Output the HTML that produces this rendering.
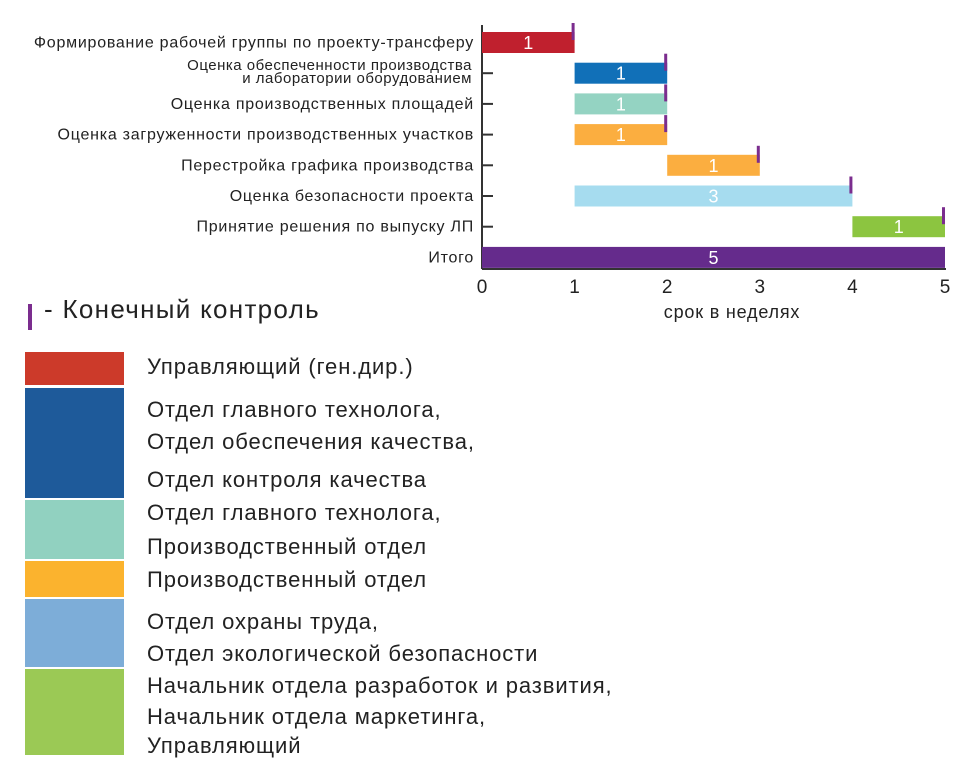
<!DOCTYPE html>
<html><head><meta charset="utf-8"><style>
body{margin:0;background:#fff;width:975px;height:755px;overflow:hidden;font-family:"Liberation Sans","DejaVu Sans",sans-serif;}
svg text{font-family:"Liberation Sans","DejaVu Sans",sans-serif;}
.lg{position:absolute;left:147px;font-size:22px;letter-spacing:0.9px;color:#222;white-space:nowrap;line-height:1}
.sw{position:absolute;left:25px;width:99px}
</style></head><body>
<svg id="chart" width="975" height="340" style="position:absolute;left:0;top:0"></svg>
<div style="position:absolute;left:28px;top:304px;width:4px;height:26px;background:#7b2d8e"></div>
<div style="position:absolute;left:44px;top:294px;font-size:26px;letter-spacing:1.3px;color:#222">- Конечный контроль</div>
<div class="sw" style="top:352px;height:33px;background:#cc3a2a"></div>
<div class="sw" style="top:388px;height:110px;background:#1e5a9a"></div>
<div class="sw" style="top:500px;height:59px;background:#91d1c0"></div>
<div class="sw" style="top:561px;height:36px;background:#fbb32e"></div>
<div class="sw" style="top:599px;height:68px;background:#7dadd8"></div>
<div class="sw" style="top:669px;height:86px;background:#9bc955"></div>
<div class="lg" style="top:356px">Управляющий (ген.дир.)</div>
<div class="lg" style="top:399px">Отдел главного технолога,</div>
<div class="lg" style="top:431px">Отдел обеспечения качества,</div>
<div class="lg" style="top:469px">Отдел контроля качества</div>
<div class="lg" style="top:502px">Отдел главного технолога,</div>
<div class="lg" style="top:536px">Производственный отдел</div>
<div class="lg" style="top:569px">Производственный отдел</div>
<div class="lg" style="top:611px">Отдел охраны труда,</div>
<div class="lg" style="top:643px">Отдел экологической безопасности</div>
<div class="lg" style="top:675px">Начальник отдела разработок и развития,</div>
<div class="lg" style="top:706px">Начальник отдела маркетинга,</div>
<div class="lg" style="top:735px">Управляющий</div>
<script>
const categories=["Формирование рабочей группы по проекту-трансферу","Оценка обеспеченности производства|и лаборатории оборудованием","Оценка производственных площадей","Оценка загруженности производственных участков","Перестройка графика производства","Оценка безопасности проекта","Принятие решения по выпуску ЛП","Итого"];
const starts=[0,1,1,1,2,1,4,0];
const durations=[1,1,1,1,1,3,1,5];
const colors=["#c0202e","#1170b8","#94d3c2","#fbae40","#fbae40","#a6dcef","#8cc540","#652b8c"];
const ticks=[0,1,2,3,4,5];
const NS="http://www.w3.org/2000/svg";
const svg=document.getElementById('chart');
const x0=482,x1=945,top0=32,rowH=30.7,barH=21,axisY=269;
const xs=v=>x0+(x1-x0)*v/5;
function el(t,a,p){const e=document.createElementNS(NS,t);for(const k in a)e.setAttribute(k,a[k]);(p||svg).appendChild(e);return e;}
let ax=el('line',{x1:x0,y1:25,x2:x0,y2:axisY,stroke:'#333','stroke-width':2});


let bx=el('line',{x1:x0,y1:axisY,x2:x1+1,y2:axisY,stroke:'#333','stroke-width':2});


ticks.forEach(t=>{
 const tl=el('text',{x:xs(t),y:293,'text-anchor':'middle','font-size':19,fill:'#222'});tl.textContent=t;
 
 
});
const xt=el('text',{x:732,y:318,'text-anchor':'middle','font-size':18,'letter-spacing':0.8,fill:'#222'});xt.textContent='срок в неделях';


categories.forEach((c,i)=>{
 const y=top0+i*rowH, cy=y+barH/2;
 if(i>0){const tk=el('line',{x1:x0,y1:cy,x2:x0+11,y2:cy,stroke:'#333','stroke-width':2});
 
 }
 const parts=c.split('|');
 if(parts.length>1){
  parts.forEach((p,j)=>{const t=el('text',{x:472,y:cy-3+j*13,'text-anchor':'end','font-size':15,'letter-spacing':0.5,fill:'#222'});t.textContent=p;
  
  });
 } else {
  const t=el('text',{x:474,y:cy+5,'text-anchor':'end','font-size':16,'letter-spacing':0.75,fill:'#222'});t.textContent=c;
  
  
 }
 const r=el('rect',{x:xs(starts[i]),y:y,width:xs(starts[i]+durations[i])-xs(starts[i]),height:barH,fill:colors[i]});
 
 
 const v=el('text',{x:(xs(starts[i])+xs(starts[i]+durations[i]))/2,y:cy+6.5,'text-anchor':'middle','font-size':18,fill:'#fff'});v.textContent=durations[i];
 
 
 if(i<categories.length-1){
  const m=el('rect',{x:xs(starts[i]+durations[i])-3,y:y-9,width:3,height:17,fill:'#7b2d8e'});
  
  
 }
});
</script>
</body></html>
